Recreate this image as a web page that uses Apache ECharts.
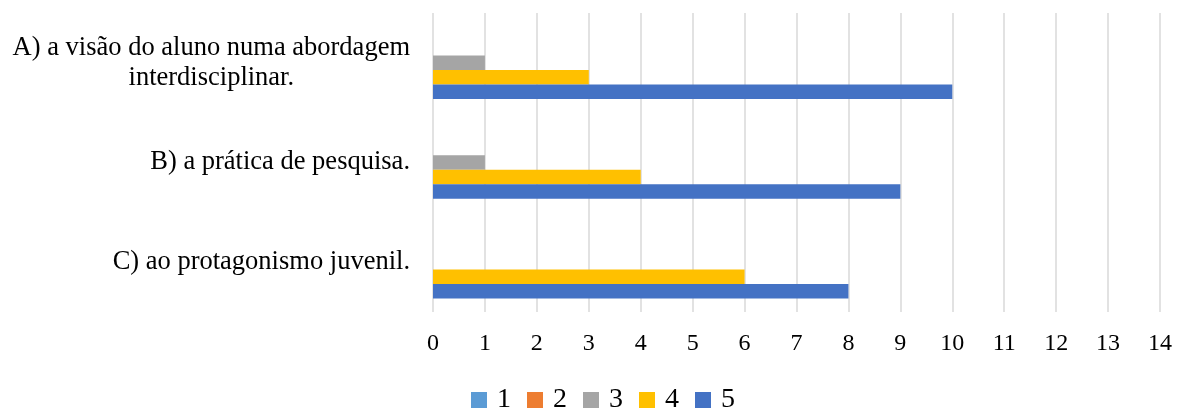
<!DOCTYPE html>
<html>
<head>
<meta charset="utf-8">
<script src="https://cdn.jsdelivr.net/npm/echarts@6/dist/echarts.min.js"></script>
<style>
  html, body { margin: 0; padding: 0; background: #fff; }
  #chart { width: 1182px; height: 412px; }
</style>
</head>
<body>
<div id="chart"></div>
<script>
// categories, top to bottom
const categories = [
  'A) a visão do aluno numa abordagem\ninterdisciplinar.',
  'B) a prática de pesquisa.',
  'C) ao protagonismo juvenil.'
];
const seriesNames = ['1', '2', '3', '4', '5'];
const s1 = [0, 0, 0];
const s2 = [0, 0, 0];
const s3 = [1, 1, 0];
const s4 = [3, 4, 6];
const s5 = [10, 9, 8];
const colors = ['#5B9BD5', '#ED7D31', '#A5A5A5', '#FFC000', '#4472C4'];

const font = '"Liberation Serif", "Times New Roman", serif';
const values = [s1, s2, s3, s4, s5];

let chart = echarts.init(document.getElementById('chart'));

let series = seriesNames.map(function (name, i) {
  return {
    name: name,
    type: 'bar',
    data: values[i],
    barWidth: 14.5,
    barGap: '0%',
    itemStyle: { color: colors[i] }
  };
});

chart.setOption({
  animation: false,
  color: colors,
  grid: { left: 433, right: 22, top: 13, bottom: 100, containLabel: false },
  xAxis: {
    type: 'value',
    min: 0,
    max: 14,
    interval: 1,
    axisLine: { show: false },
    axisTick: { show: false },
    splitLine: { show: true, lineStyle: { color: '#d9d9d9', width: 1.5 } },
    axisLabel: { color: '#000', fontFamily: font, fontSize: 24, margin: 20 }
  },
  yAxis: {
    type: 'category',
    data: categories,
    inverse: true,
    axisLine: { show: false },
    axisTick: { show: false },
    axisLabel: {
      color: '#000',
      fontFamily: font,
      fontSize: 26.5,
      margin: 23,
      lineHeight: 30,
      formatter: function (v) {
        return v.split('\n').map(function (l) { return '{c|' + l + '}'; }).join('\n');
      },
      rich: { c: { align: 'center', fontFamily: font, fontSize: 26.5, color: '#000', lineHeight: 30 } }
    }
  },
  legend: {
    top: 381,
    left: 466,
    icon: 'rect',
    itemWidth: 16,
    itemHeight: 16,
    itemGap: 16,
    data: seriesNames,
    textStyle: { color: '#000', fontFamily: font, fontSize: 28, lineHeight: 28, padding: [0, 0, 0, 5] }
  },
  series: series
});

window.addEventListener('resize', function () {
  chart.resize();
});
</script>
</body>
</html>
